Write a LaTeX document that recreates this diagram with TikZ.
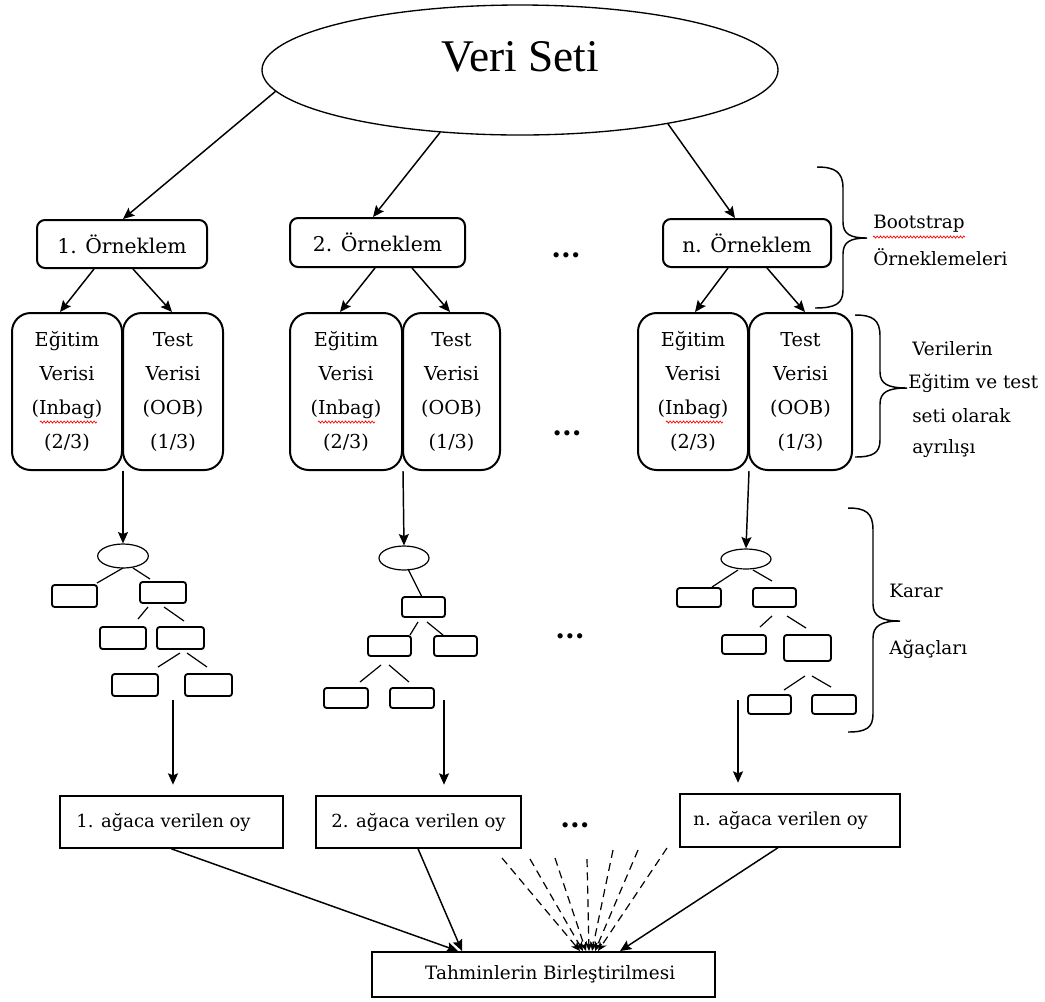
\documentclass[tikz,border=0pt]{standalone}
\usepackage{fontspec}
\setmainfont{DejaVu Serif}
\newfontfamily\titlefont{Liberation Serif}
\usetikzlibrary{fit,shapes.geometric,arrows.meta,decorations.pathmorphing}
\begin{document}
\begin{tikzpicture}[x=0.75pt,y=-0.75pt,
  sbox/.style={draw,rounded corners=6pt,line width=1.5pt,inner sep=0pt},
  stxt/.style={inner sep=0pt,font=\fontsize{15.2}{18}\selectfont},
  splitbox/.style={draw,rounded corners=14pt,line width=1.5pt,inner sep=0pt},
  sptxt/.style={inner sep=0pt,align=center,font=\fontsize{14.4}{25.5}\selectfont},
  tbox/.style={draw,rounded corners=2pt,line width=1.4pt,inner sep=0pt},
  tnode/.style={draw,ellipse,line width=0.9pt,inner sep=0pt,minimum width=38pt},
  vbox/.style={draw,line width=1pt,inner sep=0pt},
  vtxt/.style={inner sep=0pt,font=\fontsize{13.5}{16}\selectfont},
  arr/.style={line width=1.1pt,-{Stealth[length=8.5pt,width=7.5pt,inset=1.5pt]}},
  tedge/.style={line width=0.9pt},
  brc/.style={line width=1.1pt},
  lbl/.style={anchor=base west,inner sep=0pt,font=\fontsize{13.8}{16}\selectfont},
  dotrow/.style={anchor=base,inner sep=0pt,font=\fontsize{21}{21}\selectfont\bfseries},
  dashedarr/.style={line width=0.9pt,dash pattern=on 6pt off 4pt,-{Stealth[length=7pt,width=6pt]}},
  spell/.style={draw=red,line width=0.5pt,decorate,decoration={zigzag,amplitude=0.8pt,segment length=2.5pt}}
]
\fill[white] (0,0) rectangle (1045,1001);
\useasboundingbox (0,0) rectangle (1045,1001);

% data set
\node[draw,ellipse,line width=1pt,inner sep=0pt,minimum width=387pt,minimum height=97.5pt] (veri) at (520,70) {};
\node[font=\titlefont\fontsize{34}{40}\selectfont,inner sep=0pt] (baslik) at (520,57) {Veri Seti};

% bootstrap samples
\node[sbox,fit={(37,220)(207,268)},label={[stxt]center:1. Örneklem}] (ornek1) {};
\node[sbox,fit={(290,218)(465,267)},label={[stxt]center:2. Örneklem}] (ornek2) {};
\node[sbox,fit={(663,219)(831,267)},label={[stxt]center:n. Örneklem}] (ornek3) {};

\draw[arr] (veri.185) -- (123,0 |- ornek1.north);
\draw[arr] (veri.218) -- (373,0 |- ornek2.north);
\draw[arr] (veri.340) -- (735,0 |- ornek3.north);

% train / test split
\node[splitbox,fit={(12,313)(122,470)},label={[sptxt]center:{Eğitim\\Verisi\\(Inbag)\\(2/3)}}] (egt1) {};
\node[splitbox,fit={(123,313)(223,470)},label={[sptxt]center:{Test\\Verisi\\(OOB)\\(1/3)}}] (tst1) {};
\node[splitbox,fit={(290,313)(402,470)},label={[sptxt]center:{Eğitim\\Verisi\\(Inbag)\\(2/3)}}] (egt2) {};
\node[splitbox,fit={(403,313)(500,470)},label={[sptxt]center:{Test\\Verisi\\(OOB)\\(1/3)}}] (tst2) {};
\node[splitbox,fit={(638,313)(748,470)},label={[sptxt]center:{Eğitim\\Verisi\\(Inbag)\\(2/3)}}] (egt3) {};
\node[splitbox,fit={(749,313)(852,470)},label={[sptxt]center:{Test\\Verisi\\(OOB)\\(1/3)}}] (tst3) {};

\draw[spell] (40,422) -- (97,422);
\draw[spell] (318,422) -- (375,422);
\draw[spell] (666,422) -- (723,422);

\draw[arr] (94,0 |- ornek1.south) -- (60,0 |- egt1.north);
\draw[arr] (133,0 |- ornek1.south) -- (172,0 |- tst1.north);
\draw[arr] (375,0 |- ornek2.south) -- (340,0 |- egt2.north);
\draw[arr] (412,0 |- ornek2.south) -- (450,0 |- tst2.north);
\draw[arr] (728,0 |- ornek3.south) -- (695,0 |- egt3.north);
\draw[arr] (767,0 |- ornek3.south) -- (805,0 |- tst3.north);

% decision tree 1
\node[tnode,minimum height=18pt] (kok1) at (123,556) {};
\node[tbox,fit={(52,585)(97,607)}] (a1) {};
\node[tbox,fit={(140,582)(186,603)}] (b1) {};
\node[tbox,fit={(100,627)(146,649)}] (c1) {};
\node[tbox,fit={(157,627)(204,649)}] (d1) {};
\node[tbox,fit={(112,674)(158,696)}] (e1) {};
\node[tbox,fit={(185,674)(232,696)}] (f1) {};
\draw[tedge] (123,568) -- (97,583);
\draw[tedge] (133,568) -- (150,579);
\draw[tedge] (148,607) -- (138,619);
\draw[tedge] (164,607) -- (184,621);
\draw[tedge] (180,653) -- (158,667);
\draw[tedge] (187,653) -- (207,667);
\draw[arr] (egt1.south east) -- (kok1.north);

% decision tree 2
\node[tnode,minimum width=37.5pt,minimum height=18pt] (kok2) at (404,558) {};
\node[tbox,fit={(402,597)(445,617)}] (a2) {};
\node[tbox,fit={(368,636)(411,656)}] (b2) {};
\node[tbox,fit={(434,636)(477,656)}] (c2) {};
\node[tbox,fit={(324,688)(368,708)}] (d2) {};
\node[tbox,fit={(390,688)(434,708)}] (e2) {};
\draw[tedge] (408,569) -- (422,597);
\draw[tedge] (418,622) -- (410,635);
\draw[tedge] (427,622) -- (443,635);
\draw[tedge] (381,665) -- (360,682);
\draw[tedge] (389,665) -- (409,682);
\draw[arr] (egt2.south east) -- (kok2.north);

% decision tree n
\node[tnode,minimum width=37.5pt,minimum height=15pt] (kok3) at (746,559) {};
\node[tbox,fit={(677,588)(721,607)}] (a3) {};
\node[tbox,fit={(753,588)(796,607)}] (b3) {};
\node[tbox,fit={(722,635)(766,654)}] (c3) {};
\node[tbox,fit={(784,635)(831,661)}] (d3) {};
\node[tbox,fit={(748,695)(791,714)}] (e3) {};
\node[tbox,fit={(812,695)(856,714)}] (f3) {};
\draw[tedge] (738,570) -- (712,587);
\draw[tedge] (753,570) -- (772,581);
\draw[tedge] (772,616) -- (760,627);
\draw[tedge] (787,616) -- (806,628);
\draw[tedge] (805,676) -- (784,690);
\draw[tedge] (812,676) -- (831,687);
\draw[arr] (egt3.south east) -- (kok3.north);

% votes
\node[vbox,fit={(60,796)(283,848)},label={[vtxt,xshift=-6pt]center:1. ağaca verilen oy}] (oy1) {};
\node[vbox,fit={(316,796)(521,848)},label={[vtxt]center:2. ağaca verilen oy}] (oy2) {};
\node[vbox,fit={(680,794)(900,847)},label={[vtxt,xshift=-7pt]center:n. ağaca verilen oy}] (oy3) {};

\coordinate (out1) at (173,700);
\coordinate (out2) at (444,700);
\coordinate (out3) at (738,700);
\draw[arr,shorten >=8pt] (out1) -- (out1 |- oy1.north);
\draw[arr,shorten >=8pt] (out2) -- (out2 |- oy2.north);
\draw[arr,shorten >=8pt] (out3) -- (out3 |- oy3.north);

% combination
\node[draw,line width=1.5pt,inner sep=0pt,fit={(372,952)(715,997)},
  label={[inner sep=0pt,xshift=5pt,font=\fontsize{13.8}{16}\selectfont]center:Tahminlerin Birleştirilmesi}] (birles) {};

\draw[arr] (171,0 |- oy1.south) -- (458,0 |- birles.north);
\draw[arr] (418,0 |- oy2.south) -- (462,0 |- birles.north);
\draw[arr] (778,0 |- oy3.south) -- (620,0 |- birles.north);

\coordinate (g1) at (502,858);
\coordinate (g2) at (530,859);
\coordinate (g3) at (555,858);
\coordinate (g4) at (587,859);
\coordinate (g5) at (613,850);
\coordinate (g6) at (638,850);
\coordinate (g7) at (667,848);
\draw[dashedarr] (g1) -- (580,0 |- birles.north);
\draw[dashedarr] (g2) -- (583,0 |- birles.north);
\draw[dashedarr] (g3) -- (586,0 |- birles.north);
\draw[dashedarr] (g4) -- (589,0 |- birles.north);
\draw[dashedarr] (g5) -- (592,0 |- birles.north);
\draw[dashedarr] (g6) -- (595,0 |- birles.north);
\draw[dashedarr] (g7) -- (598,0 |- birles.north);

% ellipsis between columns
\node[dotrow] (nokta1) at (566,257) {...};
\node[dotrow] (nokta2) at (567,435) {...};
\node[dotrow] (nokta3) at (570,638) {...};
\node[dotrow] (nokta4) at (575,827) {...};

% braces with their labels
\draw[brc] (817,167) .. controls (835,167) and (843,172) .. (843,188) -- (843,222)
  .. controls (843,234) and (850,238) .. (867,238)
  .. controls (850,238) and (843,242) .. (843,254) -- (843,290)
  .. controls (843,304) and (835,308) .. (815,308);
\draw[brc] (855,315) .. controls (873,315) and (880,320) .. (880,336) -- (880,372)
  .. controls (880,384) and (888,388) .. (907,388)
  .. controls (888,388) and (880,392) .. (880,404) -- (880,440)
  .. controls (880,453) and (873,457) .. (855,457);
\draw[brc] (848,508) .. controls (866,508) and (873,513) .. (873,530) -- (873,604)
  .. controls (873,616) and (881,621) .. (900,621)
  .. controls (881,621) and (873,626) .. (873,638) -- (873,714)
  .. controls (873,728) and (866,732) .. (848,732);

\node[lbl] (l1) at (873,228) {Bootstrap};
\node[lbl] (l2) at (873,265) {Örneklemeleri};
\draw[spell] (873,237) -- (965,237);
\node[lbl] (l3) at (912,355) {Verilerin};
\node[lbl] (l4) at (908,388) {Eğitim ve test};
\node[lbl] (l5) at (912,422) {seti olarak};
\node[lbl] (l6) at (912,453) {ayrılışı};
\node[lbl] (l7) at (889,597) {Karar};
\node[lbl] (l8) at (889,654) {Ağaçları};
\end{tikzpicture}
\end{document}
